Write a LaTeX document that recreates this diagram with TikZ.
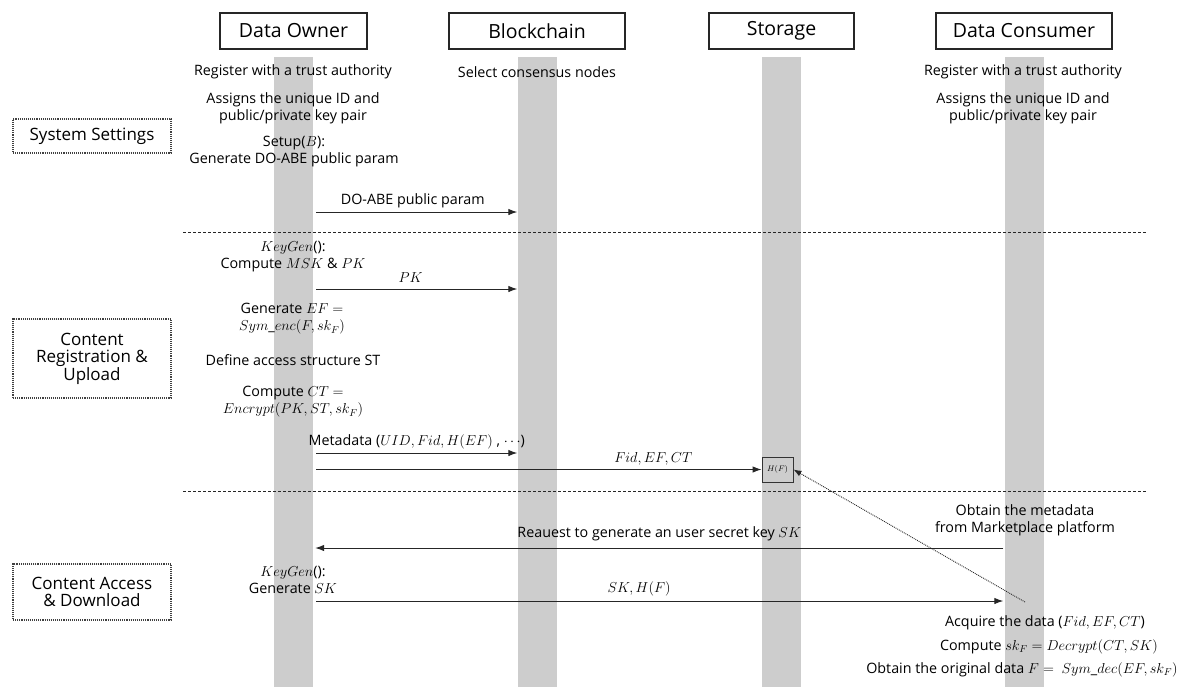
\documentclass[tikz,border=0pt]{standalone}
\usepackage{fontspec}
\setmainfont{Open Sans}
\usepackage{tikz}
\usetikzlibrary{arrows.meta,positioning}
\definecolor{bandgray}{RGB}{205,205,205}
\tikzset{
  actor/.style={rectangle, draw=black!85, line width=1.1pt, fill=white,
    minimum height=36pt, inner sep=2pt, font=\fontsize{19.5}{22}\selectfont},
  phase/.style={rectangle, draw=black!75, densely dotted, line width=1.1pt,
    minimum width=158pt, align=center, inner sep=3pt, font=\fontsize{17}{17.5}\selectfont},
  life/.style={rectangle, fill=bandgray, minimum width=39pt,
    minimum height=630pt, inner sep=0pt},
  note/.style={align=center, inner sep=1pt, font=\fontsize{14.3}{17}\selectfont},
  lbl/.style={inner sep=1pt, font=\fontsize{14.3}{17}\selectfont},
  msg/.style={-{Latex[length=9pt,width=6.5pt]}, line width=1pt, draw=black!85},
  dotmsg/.style={-{Latex[length=8pt,width=6pt]}, densely dotted, line width=0.9pt, draw=black!85},
  sep/.style={dash pattern=on 3pt off 2pt, line width=1pt, draw=black!85},
  hfbox/.style={rectangle, draw=black!80, line width=0.9pt, fill=bandgray,
    minimum width=31pt, minimum height=25pt, inner sep=0pt, font=\fontsize{8}{9}\selectfont},
}

\begin{document}
\begin{tikzpicture}[x=1pt, y=-1pt]
  \fill[white] (0,0) rectangle (1187,686);
  \useasboundingbox (0,0) rectangle (1187,686);

  % participants
  \node[actor, minimum width=147pt] (do) at (293.5,31) {Data Owner};
  \node[actor, minimum width=176pt] (bc) at (537,31) {Blockchain};
  \node[actor, minimum width=145pt] (st) at (781.5,31) {Storage};
  \node[actor, minimum width=176pt] (dc) at (1024,31) {Data Consumer};
  \node[life, below=7pt of do] (dol) {};
  \node[life, below=7pt of bc] (bcl) {};
  \node[life, below=7pt of st] (stl) {};
  \node[life, below=7pt of dc] (dcl) {};

  % phases
  \node[phase, minimum height=34pt] (ss) at (92,136) {System Settings};
  \node[phase, minimum height=79pt] (cru) at (92,358.5) {Content\\Registration \&\\Upload};
  \node[phase, minimum height=56pt] (cad) at (92,592) {Content Access\\\& Download};
  \draw[sep] (183,232) -- (1147,232);
  \draw[sep] (183,491) -- (1147,491);

  % system settings
  \node[note] (doreg) at (293,72) {Register with a trust authority};
  \node[note] (doid) at (293,108.5) {Assigns the unique ID and\\public/private key pair};
  \node[note] (dosetup) at (294,151.5) {Setup($B$):\\Generate DO-ABE public param};
  \node[note] (bcsel) at (537,72) {Select consensus nodes};
  \node[note] (dcreg) at (1023,72) {Register with a trust authority};
  \node[note] (dcid) at (1023,108.5) {Assigns the unique ID and\\public/private key pair};
  \coordinate (r1) at (0,212);
  \draw[msg] ([xshift=3pt]dol.east |- r1) -- (bcl.west |- r1)
    node[lbl, pos=0.48, above=3pt] {DO-ABE public param};

  % content registration & upload
  \node[note] (dokey) at (293,257) {$KeyGen$():\\Compute $MSK$ \& $PK$};
  \node[note] (doenc) at (292,319) {Generate $EF$ $=$\\$Sym\_enc(F,sk_F)$};
  \node[note] (dost) at (293,360) {Define access structure ST};
  \node[note] (doct) at (293,402) {Compute $CT$ $=$\\$Encrypt(PK,ST,sk_F)$};
  \coordinate (r2) at (0,289);
  \coordinate (r3) at (0,453);
  \coordinate (r4) at (0,469.5);
  \node[hfbox] (hf) at (777.5,469.5) {$H(F)$};
  \draw[msg] ([xshift=3pt]dol.east |- r2) -- (bcl.west |- r2)
    node[lbl, pos=0.47, above=5pt] {$PK$};
  \draw[msg] ([xshift=3pt]dol.east |- r3) -- (bcl.west |- r3)
    node[lbl, pos=0.5, above=2pt] {Metadata ($UID, Fid, H(EF)$ , $\cdots$)};
  \draw[msg] ([xshift=3pt]dol.east |- r4) -- (hf.west)
    node[lbl, pos=0.757, above=3pt] {$Fid, EF, CT$};

  % content access & download
  \node[note] (dcmeta) at (1025,520) {Obtain the metadata\\from Marketplace platform};
  \node[note] (dokey2) at (293,579.5) {$KeyGen$():\\Generate $SK$};
  \coordinate (r5) at (0,548);
  \coordinate (r6) at (0,601);
  \draw[msg] ([xshift=-1pt]dcl.west |- r5) -- ([xshift=2pt]dol.east |- r5)
    node[lbl, midway, above=6pt] {Reauest to generate an user secret key $SK$};
  \draw[msg] ([xshift=3pt]dol.east |- r6) -- ([xshift=-1pt]dcl.west |- r6)
    node[lbl, pos=0.47, above=3pt] {$SK, H(F)$};
  \coordinate (acq) at (1025,602);
  \draw[dotmsg] (acq) -- (hf.east);
  \node[note] (dcget) at (1045,623) {Acquire the data ($Fid, EF, CT$)};
  \node[note] (dcdec) at (1049,647) {Compute $sk_F = Decrypt(CT,SK)$};
  \node[note] (dcorig) at (1022,670) {Obtain the original data $F=\ Sym\_dec(EF,sk_F)$};
\end{tikzpicture}
\end{document}
